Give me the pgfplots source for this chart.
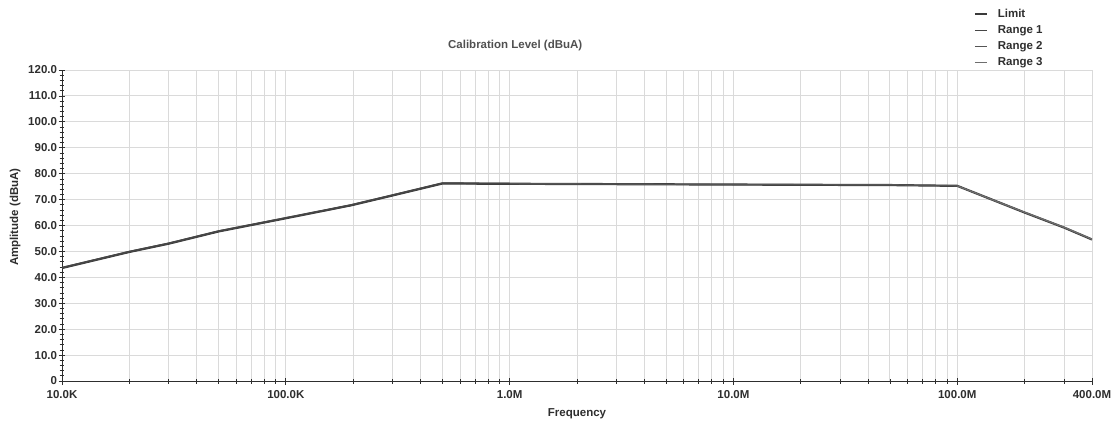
\documentclass[border=0pt]{standalone}
\usepackage{fontspec}
\setmainfont{Liberation Sans}
\usepackage{pgfplots}
\pgfplotsset{compat=1.18}
\definecolor{gridc}{HTML}{DADADA}
\definecolor{linec}{HTML}{3A3A3A}
\definecolor{txt}{HTML}{2E2E2E}
\definecolor{ttl}{HTML}{505050}
\begin{document}
\begin{tikzpicture}
\begin{axis}[
  scale only axis, width=1030pt, height=311pt,
  xmode=log, xmin=1e4, xmax=4e8, ymin=0, ymax=120,
  axis lines*=left,
  axis line style={-, txt, line width=0.9pt},
  xtick={1e4,1e5,1e6,1e7,1e8,4e8},
  xticklabels={10.0K,100.0K,1.0M,10.0M,100.0M,400.0M},
  minor xtick={2e4,3e4,4e4,5e4,6e4,7e4,8e4,9e4,2e5,3e5,4e5,5e5,6e5,7e5,8e5,9e5,2e6,3e6,4e6,5e6,6e6,7e6,8e6,9e6,2e7,3e7,4e7,5e7,6e7,7e7,8e7,9e7,2e8,3e8},
  ytick={0,10,20,30,40,50,60,70,80,90,100,110,120},
  yticklabels={0,10.0,20.0,30.0,40.0,50.0,60.0,70.0,80.0,90.0,100.0,110.0,120.0},
  minor y tick num=4,
  tick align=center,
  major tick length=7pt, minor tick length=5pt,
  tick style={txt, line width=0.7pt},
  xmajorgrids, xminorgrids, ymajorgrids,
  grid style={gridc, line width=0.9pt},
  minor grid style={gridc, line width=0.9pt},
  ticklabel style={font=\fontsize{11.5}{13}\selectfont\bfseries, text=txt},
  xticklabel style={yshift=-2pt},
  yticklabel style={xshift=2pt},
  xlabel={Frequency},
  ylabel={Amplitude (dBuA)},
  xlabel style={at={(axis description cs:0.5,-0.105)}, anchor=center, font=\fontsize{11.5}{13}\selectfont\bfseries, text=txt},
  ylabel style={at={(axis description cs:-0.0456,0.527)}, anchor=center, rotate=0, font=\fontsize{11.5}{13}\selectfont\bfseries, text=txt},
  title={Calibration Level (dBuA)},
  title style={at={(axis description cs:0.44,1.061)}, anchor=center, font=\fontsize{11.5}{13}\selectfont\bfseries, text=ttl},
  legend style={at={(axis description cs:0.884,1.205)}, anchor=north west, draw=none, fill=none,
    font=\fontsize{11.5}{13}\selectfont\bfseries, text=txt, row sep=2.5pt, inner sep=1pt,
    cells={anchor=west}},
  legend image code/.code={\draw[#1] (0pt,0pt) -- (12pt,0pt); \path[draw=none] (0pt,0pt) -- (21pt,0pt);},
]
\addplot[linec, line width=2.2pt] coordinates {
(1e4,43.6) (2e4,49.8) (3e4,53.0) (5e4,57.7) (1e5,62.8) (1.96e5,67.8) (3e5,71.6) (5e5,76.2)
(1e6,76.1) (1e7,75.8) (5e7,75.6) (1e8,75.3) (2e8,65.0) (3e8,59.2) (4e8,54.6)};
\addlegendentry{Limit}
\addplot[color={rgb,255:red,70;green,70;blue,70}, line width=1.8pt] coordinates {
(1e4,43.7) (2e4,49.9) (3e4,53.1) (5e4,57.8) (1e5,62.9) (1.96e5,67.9) (3e5,71.7) (5e5,76.3)
(1e6,76.2)};
\addlegendentry{Range 1}
\addplot[color={rgb,255:red,85;green,85;blue,85}, line width=1.4pt] coordinates {
(1e6,76.1) (3e6,76.0) (1e7,75.8) (3e7,75.7) (5e7,75.7) (7e7,75.5) (1e8,75.3)};
\addlegendentry{Range 2}
\addplot[color={rgb,255:red,110;green,110;blue,110}, line width=1.3pt] coordinates {
(1e8,75.3) (1.5e8,69.3) (2e8,65.1) (3e8,59.3) (4e8,54.7)};
\addlegendentry{Range 3}
\end{axis}
\pgfresetboundingbox
\path[use as bounding box] (current axis.south west) ++(-62pt,-45pt) rectangle ([xshift=26pt,yshift=70pt]current axis.north east);
\end{tikzpicture}
\end{document}
